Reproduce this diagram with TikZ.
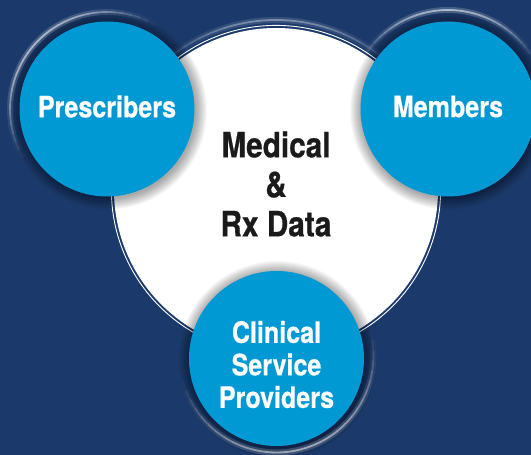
\documentclass[tikz,border=0pt]{standalone}
\usepackage{fontspec}
\setmainfont{TeX Gyre Heros}[FakeStretch=0.86]
\newfontfamily\heavyfont{TeX Gyre Heros}[FakeStretch=0.85,BoldFeatures={FakeBold=0.5}]
\usetikzlibrary{calc}
\usetikzlibrary{positioning}
\definecolor{NavyBg}{HTML}{1B3A6B}
\definecolor{BubbleBlue}{HTML}{0099D3}
\definecolor{HubInk}{HTML}{1A1A1A}

% soft light arc: centre, radius, start angle, end angle, peak opacity
\newcommand{\glowring}[5]{%
  \foreach \i [evaluate=\i as \a using {#3+\i*(#4-#3)/30},
               evaluate=\i as \op using {#5*sin(\i*6+3)},
               evaluate=\i as \opw using {0.35*#5*sin(\i*6+3)}] in {0,...,29} {
    \draw[white, line width=6pt, opacity=\opw]
      ($(#1)+(\a:#2)$) arc[start angle=\a, delta angle={(#4-#3)/30}, radius=#2];
    \draw[white, line width=1.8pt, opacity=\op]
      ($(#1)+(\a:#2)$) arc[start angle=\a, delta angle={(#4-#3)/30}, radius=#2];
  }}

\begin{document}
\begin{tikzpicture}[x=1pt,y=1pt,
    bubble/.style={shape=circle, fill=BubbleBlue, minimum size=175pt, inner sep=0pt},
    bubbletext/.style={text=white, align=center,
      font=\heavyfont\bfseries\fontsize{29.5}{32.5}\selectfont},
    hubtext/.style={text=HubInk, align=center,
      font=\heavyfont\bfseries\fontsize{35}{39.5}\selectfont}]

    \path[use as bounding box, fill=NavyBg] (0,0) rectangle (531,455);
    \clip (0,0) rectangle (531,455);

    % centre disc
    \coordinate (hubc) at (276,265);
    \glowring{hubc}{170}{45}{135}{0.35}
    \draw[white, line width=0.9pt] (hubc) circle[radius=164.6];
    \node[name=hub, shape=circle, fill=white, minimum size=324pt, inner sep=0pt] at (hubc) {};

    % coordinates of the three bubbles
    \coordinate (prescc) at (107,346);
    \coordinate (membc) at (448,346);
    \coordinate (clinc) at (276.5,96.5);

    % dark halo under each bubble
    \foreach \b in {prescc,membc,clinc} {
      \foreach \k in {1,...,12}
        \fill[black, opacity=0.03] ($(\b)+(1,-1.5)$) circle[radius=87+\k];
    }

    % light rims
    \glowring{prescc}{97}{60}{210}{0.55}
    \glowring{membc}{99}{30}{150}{0.55}
    \glowring{$(clinc)+(0,3)$}{97}{195}{375}{0.5}

    \node[name=presc, bubble] at (prescc) {};
    \node[name=memb, bubble] at (membc) {};
    \node[name=clin, bubble] at (clinc) {};

    \node[name=presctext, bubbletext] at ([yshift=2.5pt]presc.center) {Prescribers};
    \node[name=membtext, bubbletext] at ([yshift=2.5pt]memb.center) {Members};
    \node[name=clintext, bubbletext] at ([yshift=-6pt]clin.center) {Clinical\\Service\\Providers};
    \node[name=hubtext, hubtext] at ([yshift=6pt]hub.center) {Medical\\\&\\Rx Data};
  \end{tikzpicture}
\end{document}
